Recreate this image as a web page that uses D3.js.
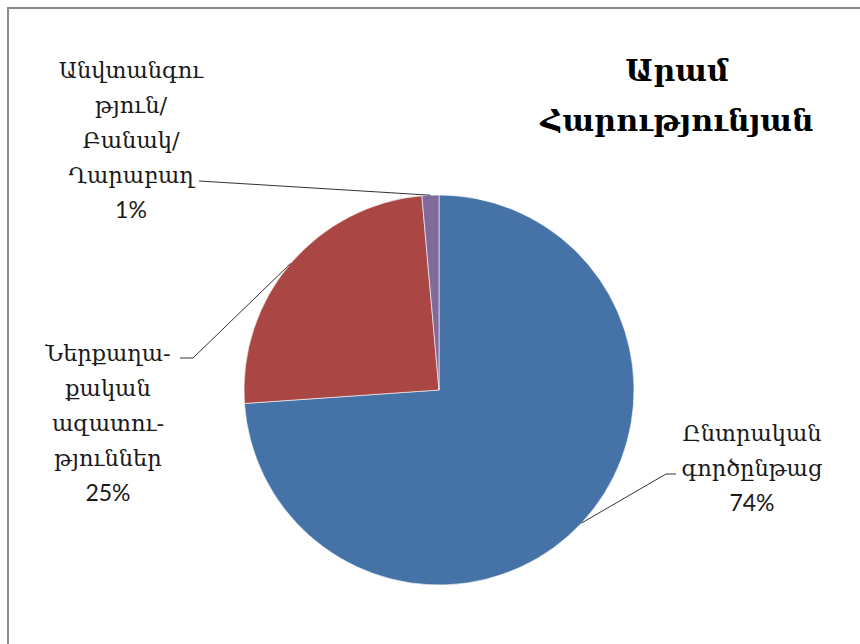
<!DOCTYPE html>
<html>
<head>
<meta charset="utf-8">
<script src="https://cdn.jsdelivr.net/npm/d3@7"></script>
<style>
  html, body { margin: 0; padding: 0; background: #fff; }
  svg { display: block; }
</style>
</head>
<body>
<svg id="chart" width="860" height="644"></svg>
<script>
// ---- data ----
const categories = ["Ընտրական գործընթաց", "Ներքաղաքական ազատություններ", "Անվտանգություն/Բանակ/Ղարաբաղ"];
const values = [73.9, 24.7, 1.4];
const labelLines = [
  ["Ընտրական", "գործընթաց"],
  ["Ներքաղա-", "քական", "ազատու-", "թյուններ"],
  ["Անվտանգու", "թյուն/", "Բանակ/", "Ղարաբաղ"]
];
const colors = ["#4572A7", "#AA4643", "#80699B"];
const titleLines = ["Արամ", "Հարությունյան"];

// ---- layout ----
const svg = d3.select("#chart");
const cx = 439, cy = 390, r = 195;
const armFont = "'DejaVu Serif', serif";
const numFont = "Lato, 'Open Sans', sans-serif";

svg.append("rect").attr("x", 8).attr("y", 8).attr("width", 900).attr("height", 700)
  .attr("fill", "#fff").attr("stroke", "#898989").attr("stroke-width", 2);

const pie = d3.pie().sort(null).value(d => d);
const arcs = pie(values);
const arc = d3.arc().innerRadius(0).outerRadius(r);
const edge = d3.arc().innerRadius(r).outerRadius(r);

const g = svg.append("g").attr("transform", `translate(${cx},${cy})`);
g.selectAll("path.slice").data(arcs).enter().append("path")
  .attr("class", "slice")
  .attr("d", arc)
  .attr("fill", (d, i) => colors[i])
  .attr("stroke", "#fff").attr("stroke-width", 0.6);

// label layout: [centerX, firstLineY, leader end (label side) x, y, elbow x]
const labelPos = [
  { x: 752, y: 441, lx: 676, ly: 474, ex: 666 },
  { x: 108, y: 361, lx: 180, ly: 358, ex: 193 },
  { x: 131, y: 78,  lx: 199, ly: 181, ex: 199 }
];
const lineH = 35;

arcs.forEach((d, i) => {
  const p = labelPos[i];
  const [ax, ay] = edge.centroid(d);
  svg.append("polyline")
    .attr("points", [[cx + ax, cy + ay], [p.ex, p.ly], [p.lx, p.ly]].map(q => q.join(",")).join(" "))
    .attr("fill", "none").attr("stroke", "#333").attr("stroke-width", 1);
  const t = svg.append("g");
  labelLines[i].forEach((ln, k) => {
    t.append("text").attr("x", p.x).attr("y", p.y + k * lineH)
      .attr("text-anchor", "middle").attr("font-family", armFont)
      .attr("font-size", 22.5).attr("fill", "#1a1a1a").text(ln);
  });
  t.append("text").attr("x", p.x).attr("y", p.y + labelLines[i].length * lineH)
    .attr("text-anchor", "middle").attr("font-family", numFont)
    .attr("font-size", 23).attr("fill", "#1a1a1a")
    .text(Math.round(values[i]) + "%");
});

titleLines.forEach((ln, k) => {
  svg.append("text").attr("x", 677).attr("y", 81 + k * 50)
    .attr("text-anchor", "middle").attr("font-family", armFont)
    .attr("font-size", 30).attr("font-weight", "bold").attr("fill", "#000").text(ln);
});
</script>
</body>
</html>
